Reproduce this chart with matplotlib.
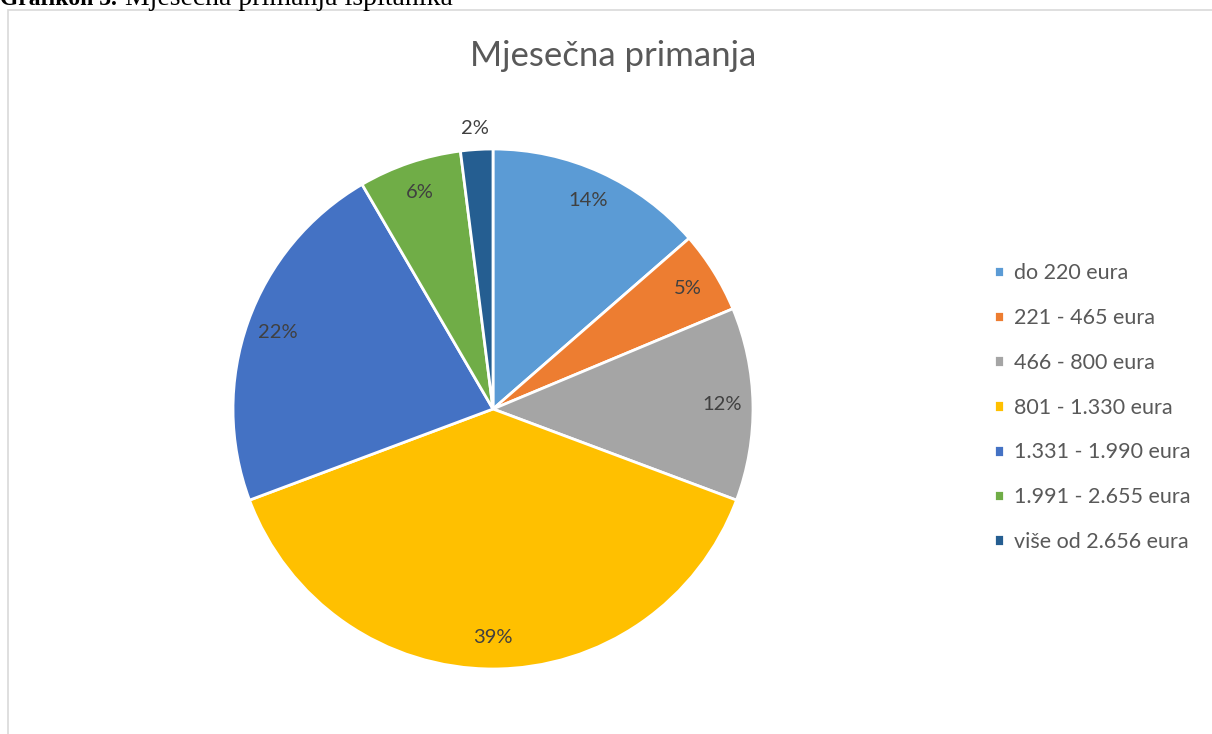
import matplotlib.pyplot as plt
from matplotlib.patches import Rectangle

# income brackets and their shares (%)
categories = ['do 220 eura', '221 - 465 eura', '466 - 800 eura', '801 - 1.330 eura',
              '1.331 - 1.990 eura', '1.991 - 2.655 eura', 'više od 2.656 eura']
shares = [13.6, 5.1, 12.0, 38.6, 22.3, 6.4, 2.0]
colors = ['#5B9BD5', '#ED7D31', '#A5A5A5', '#FFC000', '#4472C4', '#70AD47', '#255E91']

plt.rcParams['font.family'] = ['Lato', 'DejaVu Sans']

fig = plt.figure(figsize=(12.12, 7.34), dpi=100)

# chart frame (light grey border, cut at right/bottom edge)
fig.patches.append(Rectangle((8 / 1212, -0.01), 1.0, 1 - 10 / 734 + 0.01,
                             transform=fig.transFigure, fill=False,
                             edgecolor='#D9D9D9', linewidth=1.2))

# caption above the chart, mostly cut off by the top edge (as in the source)
fig.text(0.0, 1 - 5 / 734, 'Grafikon 3.', family='Liberation Serif', fontweight='bold',
         fontsize=17, va='baseline', ha='left', color='black')
fig.text(125 / 1212, 1 - 5 / 734, 'Mjesečna primanja ispitanika', family='Liberation Serif',
         fontsize=20, va='baseline', ha='left', color='black')

fig.text(613 / 1212, 1 - 56 / 734, 'Mjesečna primanja', fontsize=25, color='#595959',
         ha='center', va='center')

ax = fig.add_axes([233 / 1212, 65 / 734, 520 / 1212, 520 / 734])
wedges, texts, autotexts = ax.pie(shares, colors=colors, startangle=90, counterclock=False,
                                  autopct='%.0f%%', pctdistance=0.88, radius=1,
                                  wedgeprops=dict(edgecolor='white', linewidth=2),
                                  textprops=dict(fontsize=14.5, color='#404040'))
# smallest slice label sits outside the pie
x, y = autotexts[-1].get_position()
autotexts[-1].set_position((x * 1.08 / 0.88, y * 1.08 / 0.88))
ax.set_xlim(-1, 1)
ax.set_ylim(-1, 1)
ax.set_aspect('equal')

fig.legend(wedges, categories, loc='upper left', bbox_to_anchor=(975 / 1212, 1 - 244 / 734),
           frameon=False, fontsize=15.5, labelcolor='#595959', handlelength=0.45,
           handleheight=0.45, handletextpad=0.45, labelspacing=1.15)

plt.savefig('out.png', dpi=100)
